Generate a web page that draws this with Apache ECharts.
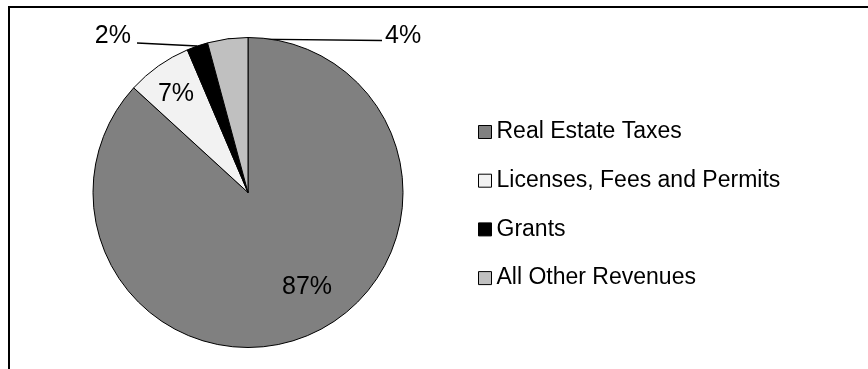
<!DOCTYPE html>
<html>
<head>
<meta charset="utf-8">
<script src="https://cdn.jsdelivr.net/npm/echarts@6/dist/echarts.min.js"></script>
<style>
  html, body { margin: 0; padding: 0; background: #fff; }
  #revenuePie { width: 868px; height: 369px; }
</style>
</head>
<body>
<div id="revenuePie"></div>
<script>
var categories = ['Real Estate Taxes', 'Licenses, Fees and Permits', 'Grants', 'All Other Revenues'];
var shares = [86.8, 6.8, 2.2, 4.2];
var sliceColors = ['#808080', '#f2f2f2', '#000000', '#c0c0c0'];

// label placement (layout only)
var labelSpots = [
    { x: 307, y: 287, align: 'center' },
    { x: 176, y: 94, align: 'center' },
    { x: 131, y: 36, align: 'right', lineEnd: [137, 43] },
    { x: 385, y: 36, align: 'left', lineEnd: [382, 40.5] }
];

var revenuePie = echarts.init(document.getElementById('revenuePie'));
window.addEventListener('resize', function () {
    revenuePie.resize()
});

var pieData = categories.map(function (name, i) {
    var outside = i >= 2;
    return {
        name: name,
        value: shares[i],
        itemStyle: { color: sliceColors[i] },
        label: { position: outside ? 'outside' : 'inside' },
        labelLine: { show: outside }
    };
});

revenuePie.setOption({
    animation: false,
    textStyle: { fontFamily: 'Liberation Sans, Arial, sans-serif' },
    graphic: [{
        type: 'rect',
        silent: true,
        shape: { x: 9, y: 7, width: 900, height: 420 },
        style: { fill: 'none', stroke: '#000', lineWidth: 2 }
    }],
    legend: {
        orient: 'vertical',
        left: 478,
        top: 120,
        padding: 0,
        icon: 'rect',
        itemWidth: 13,
        itemHeight: 13,
        itemGap: 24.7,
        selectedMode: false,
        itemStyle: { borderColor: '#000', borderWidth: 1 },
        textStyle: { fontSize: 23, color: '#000', lineHeight: 24 },
        data: categories
    },
    series: [{
        type: 'pie',
        center: [248, 192.5],
        radius: 155,
        startAngle: 90,
        clockwise: true,
        avoidLabelOverlap: false,
        itemStyle: { borderColor: '#000', borderWidth: 1 },
        label: {
            fontSize: 25,
            color: '#000',
            formatter: function (p) { return Math.round(p.percent) + '%'; }
        },
        labelLine: {
            length: 5,
            length2: 20,
            lineStyle: { color: '#000', width: 1.3 }
        },
        emphasis: { disabled: true },
        labelLayout: function (p) {
            var spot = labelSpots[p.dataIndex];
            var out = { x: spot.x, y: spot.y, align: spot.align, verticalAlign: 'middle' };
            if (spot.lineEnd && p.labelLinePoints) {
                out.labelLinePoints = [p.labelLinePoints[0], spot.lineEnd];
            }
            return out;
        },
        data: pieData
    }]
})
</script>
</body>
</html>
